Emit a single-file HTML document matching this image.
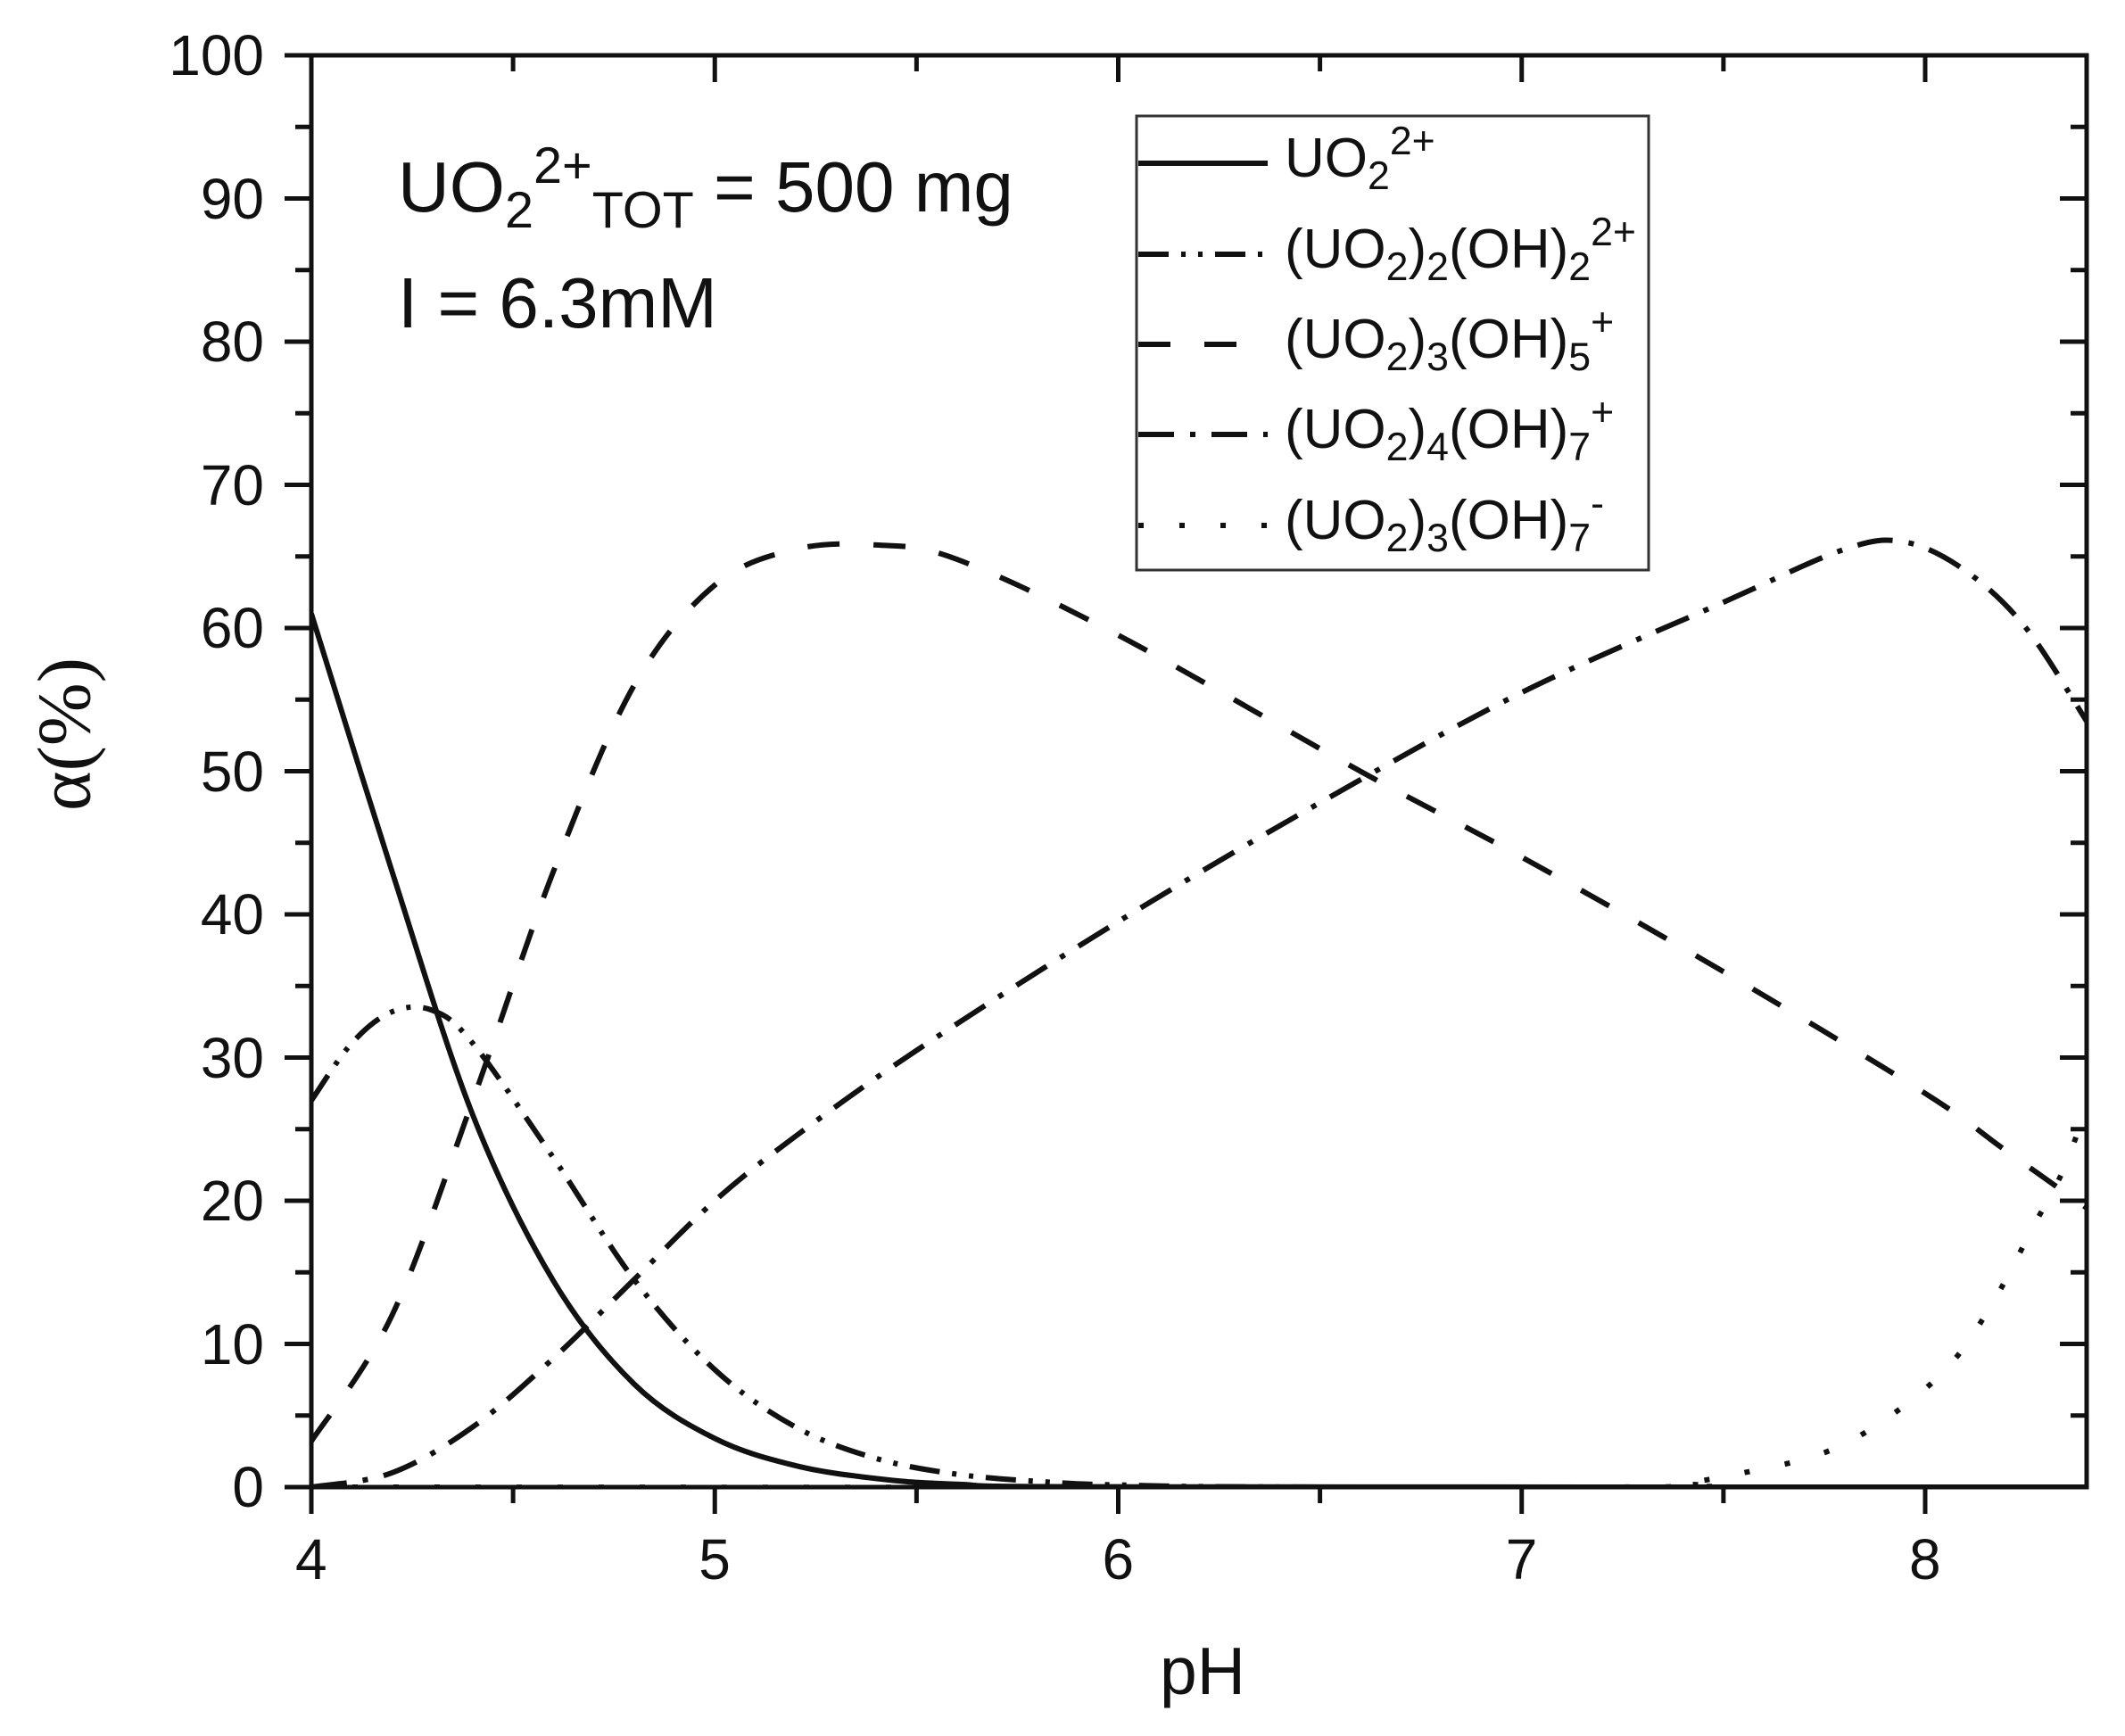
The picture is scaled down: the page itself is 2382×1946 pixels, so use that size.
<!DOCTYPE html>
<html><head><meta charset="utf-8"><style>
html,body{margin:0;padding:0;background:#fff;}
body{width:2382px;height:1946px;position:relative;overflow:hidden;font-family:"Liberation Sans",Arial,sans-serif;color:#111;}
.t{position:absolute;white-space:nowrap;line-height:1;}
.sb{font-size:0.72em;position:relative;top:0.32em;}
.sp{font-size:0.72em;position:relative;top:-0.55em;}
</style></head><body>
<svg id="s" width="2382" height="1946" style="position:absolute;left:0;top:0">
<defs><clipPath id="c"><rect x="349" y="62" width="1990" height="1605"/></clipPath></defs>
<g id="curves" clip-path="url(#c)" fill="none" stroke="#111" stroke-width="6"></g>
<rect x="349" y="62" width="1990" height="1605" fill="none" stroke="#111" stroke-width="5"/>
<g id="ticks" stroke="#111" stroke-width="5"></g>
<rect x="1274" y="130" width="574" height="509" fill="#fff" stroke="#333" stroke-width="3"/>
<g stroke="#111" stroke-width="6" fill="none">
<line x1="1276" y1="183" x2="1421" y2="183"/>
<line x1="1276" y1="285" x2="1421" y2="285" stroke-dasharray="34 14 5 14 5 14"/>
<line x1="1276" y1="386" x2="1421" y2="386" stroke-dasharray="36 38"/>
<line x1="1276" y1="487" x2="1421" y2="487" stroke-dasharray="40 18 6 18"/>
<line x1="1276" y1="589" x2="1421" y2="589" stroke-dasharray="6 40"/>
</g>
</svg>
<div id="labels"></div>
<div class="t" style="left:446px;top:170px;font-size:80px;">UO<span class="sb">2</span><span class="sp">2+</span><span class="sb">TOT</span> = 500 mg</div>
<div class="t" style="left:446px;top:300px;font-size:80px;">I = 6.3mM</div>
<div class="t" style="left:1440px;top:147px;font-size:62px;">UO<span class="sb">2</span><span class="sp">2+</span></div>
<div class="t" style="left:1440px;top:249px;font-size:62px;">(UO<span class="sb">2</span>)<span class="sb">2</span>(OH)<span class="sb">2</span><span class="sp">2+</span></div>
<div class="t" style="left:1440px;top:350px;font-size:62px;">(UO<span class="sb">2</span>)<span class="sb">3</span>(OH)<span class="sb">5</span><span class="sp">+</span></div>
<div class="t" style="left:1440px;top:451px;font-size:62px;">(UO<span class="sb">2</span>)<span class="sb">4</span>(OH)<span class="sb">7</span><span class="sp">+</span></div>
<div class="t" style="left:1440px;top:553px;font-size:62px;">(UO<span class="sb">2</span>)<span class="sb">3</span>(OH)<span class="sb">7</span><span class="sp">-</span></div>
<div class="t" style="left:1300px;top:1836px;font-size:75px;">pH</div>
<div class="t" style="left:73px;top:823px;font-size:85px;transform:translate(-50%,-50%) rotate(-90deg);font-family:'Liberation Serif',serif;">α(%)</div>
<script>
var X=function(p){return 349+(p-4)*452.25;},Y=function(v){return 1667-v*16.05;};
var ns="http://www.w3.org/2000/svg";
var tk=document.getElementById('ticks'),lb=document.getElementById('labels');
function ln(x1,y1,x2,y2){var l=document.createElementNS(ns,'line');l.setAttribute('x1',x1);l.setAttribute('y1',y1);l.setAttribute('x2',x2);l.setAttribute('y2',y2);tk.appendChild(l);}
for(var v=0;v<=100;v+=5){var y=Y(v),maj=v%10==0;ln(349,y,349-(maj?30:18),y);ln(2339,y,2339-(maj?30:18),y);
 if(maj){var d=document.createElement('div');d.className='t';d.style.cssText='font-size:64px;right:'+(2382-296)+'px;top:'+(y-32)+'px;';d.textContent=v;lb.appendChild(d);}}
for(var p=4;p<=8.41;p+=0.5){var x=X(p),maj=Math.abs(p-Math.round(p))<0.01;ln(x,1667,x,1667+(maj?30:18));ln(x,62,x,62+(maj?30:18));
 if(maj){var d=document.createElement('div');d.className='t';d.style.cssText='font-size:64px;left:'+(x-18)+'px;top:1716px;';d.textContent=Math.round(p);lb.appendChild(d);}}
var S=[
 [[4,61],[4.2,43],[4.4,26],[4.6,14.4],[4.8,7.2],[5,3.4],[5.2,1.5],[5.4,0.6],[5.6,0.2],[6,0.02],[8.4,0]],"",
 [[4,27],[4.1,31],[4.2,33.2],[4.3,33.3],[4.4,31],[4.6,23],[4.8,14.5],[5,8.2],[5.2,4.2],[5.4,2],[5.6,0.9],[5.8,0.4],[6,0.15],[6.5,0],[8.4,0]],"34 14 5 14 5 14",
 [[4,3.2],[4.2,12],[4.4,27],[4.6,43],[4.8,56],[5,63],[5.2,65.5],[5.4,65.8],[5.6,64.8],[6,59.5],[6.6,50],[7,44],[7.5,36],[8,27.5],[8.2,23.5],[8.4,19.5]],"36 38",
 [[4,0],[4.2,1],[4.4,4.2],[4.6,9],[4.8,14.5],[5,20],[5.2,24.5],[5.5,30.5],[6,39.5],[6.5,47.8],[7,55.5],[7.5,61.8],[7.8,65.5],[7.95,66],[8.1,64],[8.25,60],[8.4,53.5]],"40 18 6 18",
 [[4,0],[7.2,0],[7.4,0.3],[7.55,1],[7.75,2.4],[7.91,4.9],[8.06,8.5],[8.17,13],[8.27,18.3],[8.34,22],[8.4,26.5]],"6 40"
];
var g=document.getElementById('curves');
for(var i=0;i<S.length;i+=2){var pts=S[i].map(function(a){return [X(a[0]),Y(a[1])];});
 var d='M'+pts[0][0]+','+pts[0][1];
 for(var k=0;k<pts.length-1;k++){var p0=pts[k-1]||pts[k],p1=pts[k],p2=pts[k+1],p3=pts[k+2]||p2;
  d+=' C'+(p1[0]+(p2[0]-p0[0])/6)+','+(p1[1]+(p2[1]-p0[1])/6)+' '+(p2[0]-(p3[0]-p1[0])/6)+','+(p2[1]-(p3[1]-p1[1])/6)+' '+p2[0]+','+p2[1];}
 var pa=document.createElementNS(ns,'path');pa.setAttribute('d',d);if(S[i+1])pa.setAttribute('stroke-dasharray',S[i+1]);g.appendChild(pa);}
</script>
</body></html>
